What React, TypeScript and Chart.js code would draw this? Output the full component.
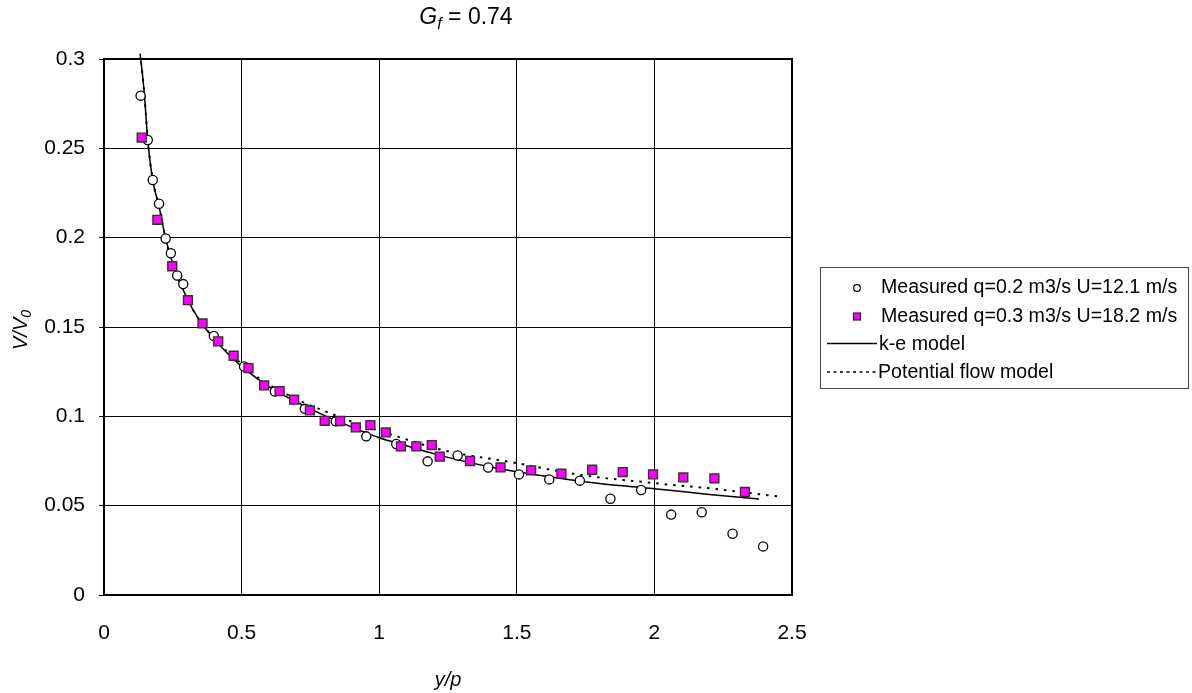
import { useEffect, useRef } from "react";
import { Chart, registerables } from "chart.js";

Chart.register(...registerables);

const FONT = '"Liberation Sans", Arial, Helvetica, sans-serif';

// Measured velocity ratio, q = 0.2 m3/s
const lowFlowX = [
  0.133, 0.159, 0.177, 0.2, 0.224, 0.243, 0.266, 0.288, 0.399, 0.509, 0.621, 0.73, 0.842, 0.953,
  1.062, 1.176, 1.285, 1.396, 1.508, 1.618, 1.729, 1.84, 1.952, 2.061, 2.172, 2.284, 2.395,
];
const lowFlowY = [
  0.2795, 0.2547, 0.2323, 0.219, 0.1995, 0.1913, 0.1788, 0.174, 0.145, 0.1279, 0.1139, 0.1042,
  0.0972, 0.0888, 0.0845, 0.0748, 0.0781, 0.0714, 0.0675, 0.0647, 0.064, 0.0539, 0.0588, 0.045,
  0.0463, 0.0343, 0.0272,
];

// Measured velocity ratio, q = 0.3 m3/s
const highFlowX = [
  0.137, 0.194, 0.248, 0.305, 0.358, 0.415, 0.471, 0.525, 0.582, 0.638, 0.691, 0.748, 0.802, 0.858,
  0.915, 0.968, 1.024, 1.079, 1.135, 1.191, 1.22, 1.33, 1.441, 1.552, 1.662, 1.774, 1.885, 1.995,
  2.105, 2.218, 2.329,
];
const highFlowY = [
  0.256, 0.21, 0.184, 0.165, 0.152, 0.142, 0.1339, 0.127, 0.1173, 0.1141, 0.1093, 0.1033, 0.0975,
  0.0974, 0.0938, 0.0951, 0.091, 0.0832, 0.0832, 0.0839, 0.0774, 0.075, 0.0714, 0.0698, 0.0679,
  0.0701, 0.0688, 0.0675, 0.0658, 0.0653, 0.0577,
];

// k-e model curve
const keModelX = [
  0.131, 0.14, 0.147, 0.159, 0.177, 0.2, 0.225, 0.25, 0.3, 0.35, 0.4, 0.45, 0.5, 0.6, 0.7, 0.8,
  0.9, 1.0, 1.1, 1.2, 1.4, 1.6, 1.8, 2.0, 2.2, 2.38,
];
const keModelY = [
  0.303, 0.291, 0.2795, 0.2547, 0.2323, 0.2175, 0.1988, 0.1855, 0.1665, 0.153, 0.1435, 0.135,
  0.128, 0.1165, 0.108, 0.1005, 0.094, 0.088, 0.0835, 0.079, 0.0718, 0.0666, 0.0624, 0.0595,
  0.0563, 0.0537,
];

// Potential flow model curve
const potentialX = [
  0.131, 0.14, 0.147, 0.159, 0.177, 0.2, 0.225, 0.25, 0.3, 0.35, 0.4, 0.45, 0.5, 0.566, 0.65,
  0.736, 0.796, 0.881, 0.941, 1.0, 1.1, 1.244, 1.486, 1.728, 1.994, 2.212, 2.448,
];
const potentialY = [
  0.303, 0.291, 0.2795, 0.2547, 0.2323, 0.2175, 0.1988, 0.1855, 0.1665, 0.153, 0.1438, 0.1358,
  0.1295, 0.121, 0.1135, 0.107, 0.1033, 0.0981, 0.0949, 0.092, 0.087, 0.0806, 0.0742, 0.0673,
  0.0627, 0.0595, 0.0552,
];

const xTickLabels = ["0", "0.5", "1", "1.5", "2", "2.5"];
const yTickLabels = ["0", "0.05", "0.1", "0.15", "0.2", "0.25", "0.3"];

const seriesNames = [
  "Measured q=0.2 m3/s U=12.1 m/s",
  "Measured q=0.3 m3/s U=18.2 m/s",
  "k-e model",
  "Potential flow model",
];

const toPoints = (xs: number[], ys: number[]) => xs.map((x, i) => ({ x, y: ys[i] }));

type Piece = { text: string; italic?: boolean; sub?: boolean };

// Draws a run of text pieces (italic / subscript) centred at (cx, baseline)
function drawRich(ctx: CanvasRenderingContext2D, pieces: Piece[], cx: number, baseline: number, size: number) {
  const subSize = Math.round(size * 0.68);
  const fontOf = (p: Piece) => `${p.italic ? "italic " : ""}${p.sub ? subSize : size}px ${FONT}`;
  let total = 0;
  const widths = pieces.map((p) => {
    ctx.font = fontOf(p);
    const w = ctx.measureText(p.text).width;
    total += w;
    return w;
  });
  let x = cx - total / 2;
  ctx.textAlign = "left";
  ctx.textBaseline = "alphabetic";
  pieces.forEach((p, i) => {
    ctx.font = fontOf(p);
    ctx.fillText(p.text, x, baseline + (p.sub ? size * 0.22 : 0));
    x += widths[i];
  });
}

const decorations = {
  id: "decorations",
  beforeDatasetsDraw(chart: any) {
    const { ctx, chartArea: a } = chart;
    ctx.save();
    ctx.strokeStyle = "#000";
    ctx.lineWidth = 2;
    ctx.strokeRect(a.left, a.top, a.right - a.left, a.bottom - a.top);
    ctx.restore();
  },
  afterDraw(chart: any) {
    const { ctx, chartArea: a } = chart;
    ctx.save();
    ctx.fillStyle = "#000";

    // title
    drawRich(ctx, [{ text: "G", italic: true }, { text: "f", italic: true, sub: true }, { text: " = 0.74" }], 466, 24, 23);

    // x axis title
    drawRich(ctx, [{ text: "y/p", italic: true }], (a.left + a.right) / 2, 686, 20);

    // y axis title
    ctx.save();
    ctx.translate(27, (a.top + a.bottom) / 2 + 3);
    ctx.rotate(-Math.PI / 2);
    drawRich(ctx, [{ text: "V/V", italic: true }, { text: "0", italic: true, sub: true }], 0, 0, 20);
    ctx.restore();

    // legend
    const box = { left: 820.5, top: 267.5, right: 1188.5, bottom: 388.5 };
    ctx.strokeStyle = "#444";
    ctx.lineWidth = 1;
    ctx.strokeRect(box.left, box.top, box.right - box.left, box.bottom - box.top);
    const rows = [288, 316.5, 344.5, 373];
    ctx.font = `19.6px ${FONT}`;
    ctx.textBaseline = "middle";
    ctx.textAlign = "left";

    // circle marker
    ctx.beginPath();
    ctx.arc(857, rows[0], 3.3, 0, Math.PI * 2);
    ctx.fillStyle = "#fff";
    ctx.fill();
    ctx.strokeStyle = "#000";
    ctx.lineWidth = 1.2;
    ctx.stroke();
    // square marker
    ctx.fillStyle = "#ff00ff";
    ctx.fillRect(853.5, rows[1] - 3.5, 7, 7);
    ctx.strokeStyle = "#222";
    ctx.lineWidth = 1.2;
    ctx.strokeRect(853.5, rows[1] - 3.5, 7, 7);
    // solid line
    ctx.beginPath();
    ctx.moveTo(827, rows[2] - 1);
    ctx.lineTo(877, rows[2] - 1);
    ctx.strokeStyle = "#000";
    ctx.lineWidth = 1.5;
    ctx.stroke();
    // dotted line
    ctx.beginPath();
    ctx.setLineDash([3, 3.5]);
    ctx.moveTo(827, rows[3] - 1);
    ctx.lineTo(877, rows[3] - 1);
    ctx.stroke();
    ctx.setLineDash([]);

    ctx.fillStyle = "#000";
    ctx.fillText(seriesNames[0], 881, rows[0]);
    ctx.fillText(seriesNames[1], 881, rows[1]);
    ctx.fillText(seriesNames[2], 879, rows[2]);
    ctx.fillText(seriesNames[3], 878, rows[3]);
    ctx.restore();
  },
};

export default function App() {
  const canvasRef = useRef<HTMLCanvasElement | null>(null);

  useEffect(() => {
    const canvas = canvasRef.current;
    if (!canvas) return;
    const tickFont = { family: FONT, size: 21 };
    const chart = new Chart(canvas, {
      type: "scatter",
      data: {
        datasets: [
          {
            label: seriesNames[0],
            data: toPoints(lowFlowX, lowFlowY),
            showLine: false,
            pointStyle: "circle",
            pointRadius: 4.6,
            pointBackgroundColor: "#ffffff",
            pointBorderColor: "#000000",
            pointBorderWidth: 1.3,
            order: 1,
          },
          {
            label: seriesNames[1],
            data: toPoints(highFlowX, highFlowY),
            showLine: false,
            pointStyle: "rect",
            pointRadius: 6.3,
            pointBackgroundColor: "#ff00ff",
            pointBorderColor: "#333333",
            pointBorderWidth: 1.4,
            order: 0,
          },
          {
            label: seriesNames[2],
            data: toPoints(keModelX, keModelY),
            showLine: true,
            pointRadius: 0,
            borderColor: "#000000",
            borderWidth: 1.5,
            cubicInterpolationMode: "monotone",
            clip: false,
            order: 3,
          },
          {
            label: seriesNames[3],
            data: toPoints(potentialX, potentialY),
            showLine: true,
            pointRadius: 0,
            borderColor: "#000000",
            borderWidth: 2,
            borderDash: [2.5, 6],
            cubicInterpolationMode: "monotone",
            order: 2,
          },
        ],
      },
      options: {
        responsive: false,
        animation: false,
        devicePixelRatio: 1,
        events: [],
        layout: { padding: { left: 0, top: 59, right: 400, bottom: 0 } },
        plugins: {
          legend: { display: false },
          tooltip: { enabled: false },
          title: { display: false },
        },
        scales: {
          x: {
            type: "linear",
            min: 0,
            max: 2.5,
            ticks: {
              stepSize: 0.5,
              autoSkip: false,
              maxRotation: 0,
              color: "#000",
              font: tickFont,
              padding: 26,
              callback: (_v: any, i: number) => xTickLabels[i],
            },
            grid: { color: "#000", lineWidth: 1, drawTicks: false },
            border: { display: false },
            afterFit: (s: any) => {
              s.height = 98;
            },
          },
          y: {
            type: "linear",
            min: 0,
            max: 0.3,
            ticks: {
              stepSize: 0.05,
              autoSkip: false,
              color: "#000",
              font: tickFont,
              padding: 14,
              callback: (_v: any, i: number) => yTickLabels[i],
            },
            grid: { color: "#000", lineWidth: 1, drawTicks: true, tickLength: 5 },
            border: { display: false },
            afterFit: (s: any) => {
              s.width = 104;
            },
          },
        },
      } as any,
      plugins: [decorations],
    });
    return () => chart.destroy();
  }, []);

  return (
    <div style={{ position: "fixed", left: 0, top: 0, width: 1192, height: 693, background: "#fff" }}>
      <canvas ref={canvasRef} width={1192} height={693} style={{ width: 1192, height: 693, display: "block" }} />
    </div>
  );
}
